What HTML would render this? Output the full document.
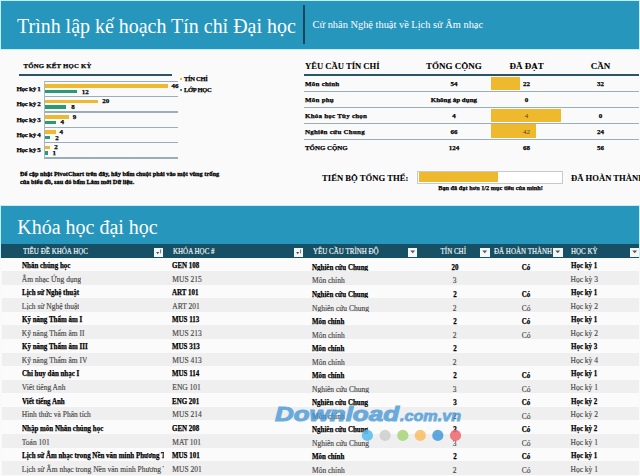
<!DOCTYPE html>
<html><head><meta charset="utf-8"><style>
html,body{margin:0;padding:0;width:640px;height:476px;overflow:hidden;background:#fafafa;position:relative}
</style></head><body>
<div style="position:absolute;left:0px;top:0px;width:640px;height:50px;background:#c4eefa"></div><div style="position:absolute;left:1px;top:1px;width:637.7px;height:47.8px;background:#2696bd"></div><div style="position:absolute;left:16.9px;top:14.57px;font:400 22px/22px 'Liberation Serif',serif;color:#fff;white-space:nowrap;transform:scaleX(0.907);transform-origin:0 0">Trình lập kế hoạch Tín chỉ Đại học</div><div style="position:absolute;left:303px;top:5px;width:1.5px;height:39px;background:#17475c"></div><div style="position:absolute;left:312.5px;top:19.99px;font:400 10.4px/10.4px 'Liberation Serif',serif;color:#fff;white-space:nowrap;">Cử nhân Nghệ thuật về Lịch sử Âm nhạc</div><div style="position:absolute;left:23.4px;top:63.10px;font:700 6.8px/6.8px 'Liberation Serif',serif;color:#000;white-space:nowrap;-webkit-text-stroke:0.25px #000;letter-spacing:0.22px">TỔNG KẾT HỌC KỲ</div><div style="position:absolute;left:18.5px;top:74.3px;width:153.5px;height:1.5px;background:#2a5468"></div><div style="position:absolute;left:44px;top:80.50px;width:134px;height:1.4px;background:#9aadbc"></div><div style="position:absolute;left:44px;top:95.86px;width:134px;height:1.4px;background:#9aadbc"></div><div style="position:absolute;left:44px;top:111.22px;width:134px;height:1.4px;background:#9aadbc"></div><div style="position:absolute;left:44px;top:126.58px;width:134px;height:1.4px;background:#9aadbc"></div><div style="position:absolute;left:44px;top:141.94px;width:134px;height:1.4px;background:#9aadbc"></div><div style="position:absolute;left:44px;top:157.30px;width:134px;height:1.4px;background:#9aadbc"></div><div style="position:absolute;left:43.8px;top:80.7px;width:1.1px;height:77.80px;background:#a9b8c4"></div><div style="position:absolute;left:45px;top:84.40px;width:122.82px;height:3.4px;background:#eeb92c"></div><div style="position:absolute;left:45px;top:89.80px;width:32.04px;height:3.6px;background:#2a9a75"></div><div style="position:absolute;left:-359.5px;width:400px;text-align:right;top:85.84px;font:700 7px/7px 'Liberation Serif',serif;color:#000;white-space:nowrap;-webkit-text-stroke:0.25px #000;letter-spacing:-0.3px">Học kỳ 1</div><div style="position:absolute;left:171.62px;top:83.04px;font:700 7px/7px 'Liberation Serif',serif;color:#000;white-space:nowrap;-webkit-text-stroke:0.25px #000;">46</div><div style="position:absolute;left:81.83999999999999px;top:88.54px;font:700 7px/7px 'Liberation Serif',serif;color:#000;white-space:nowrap;-webkit-text-stroke:0.25px #000;">12</div><div style="position:absolute;left:45px;top:99.76px;width:53.40px;height:3.4px;background:#eeb92c"></div><div style="position:absolute;left:45px;top:105.16px;width:21.36px;height:3.6px;background:#2a9a75"></div><div style="position:absolute;left:-359.5px;width:400px;text-align:right;top:101.20px;font:700 7px/7px 'Liberation Serif',serif;color:#000;white-space:nowrap;-webkit-text-stroke:0.25px #000;letter-spacing:-0.3px">Học kỳ 2</div><div style="position:absolute;left:102.2px;top:98.40px;font:700 7px/7px 'Liberation Serif',serif;color:#000;white-space:nowrap;-webkit-text-stroke:0.25px #000;">20</div><div style="position:absolute;left:71.16px;top:103.90px;font:700 7px/7px 'Liberation Serif',serif;color:#000;white-space:nowrap;-webkit-text-stroke:0.25px #000;">8</div><div style="position:absolute;left:45px;top:115.12px;width:24.03px;height:3.4px;background:#eeb92c"></div><div style="position:absolute;left:45px;top:120.52px;width:10.68px;height:3.6px;background:#2a9a75"></div><div style="position:absolute;left:-359.5px;width:400px;text-align:right;top:116.56px;font:700 7px/7px 'Liberation Serif',serif;color:#000;white-space:nowrap;-webkit-text-stroke:0.25px #000;letter-spacing:-0.3px">Học kỳ 3</div><div style="position:absolute;left:72.83px;top:113.76px;font:700 7px/7px 'Liberation Serif',serif;color:#000;white-space:nowrap;-webkit-text-stroke:0.25px #000;">9</div><div style="position:absolute;left:60.48px;top:119.26px;font:700 7px/7px 'Liberation Serif',serif;color:#000;white-space:nowrap;-webkit-text-stroke:0.25px #000;">4</div><div style="position:absolute;left:45px;top:130.48px;width:10.68px;height:3.4px;background:#eeb92c"></div><div style="position:absolute;left:45px;top:135.88px;width:5.34px;height:3.6px;background:#2a9a75"></div><div style="position:absolute;left:-359.5px;width:400px;text-align:right;top:131.92px;font:700 7px/7px 'Liberation Serif',serif;color:#000;white-space:nowrap;-webkit-text-stroke:0.25px #000;letter-spacing:-0.3px">Học kỳ 4</div><div style="position:absolute;left:59.48px;top:129.12px;font:700 7px/7px 'Liberation Serif',serif;color:#000;white-space:nowrap;-webkit-text-stroke:0.25px #000;">4</div><div style="position:absolute;left:55.14px;top:134.62px;font:700 7px/7px 'Liberation Serif',serif;color:#000;white-space:nowrap;-webkit-text-stroke:0.25px #000;">2</div><div style="position:absolute;left:45px;top:145.84px;width:5.34px;height:3.4px;background:#eeb92c"></div><div style="position:absolute;left:45px;top:151.24px;width:2.67px;height:3.6px;background:#2a9a75"></div><div style="position:absolute;left:-359.5px;width:400px;text-align:right;top:147.28px;font:700 7px/7px 'Liberation Serif',serif;color:#000;white-space:nowrap;-webkit-text-stroke:0.25px #000;letter-spacing:-0.3px">Học kỳ 5</div><div style="position:absolute;left:54.14px;top:144.48px;font:700 7px/7px 'Liberation Serif',serif;color:#000;white-space:nowrap;-webkit-text-stroke:0.25px #000;">2</div><div style="position:absolute;left:52.47px;top:149.98px;font:700 7px/7px 'Liberation Serif',serif;color:#000;white-space:nowrap;-webkit-text-stroke:0.25px #000;">1</div><div style="position:absolute;left:179.5px;top:77.5px;width:2.5px;height:2.5px;background:#eeb92c"></div><div style="position:absolute;left:184px;top:75.56px;font:700 6.5px/6.5px 'Liberation Serif',serif;color:#000;white-space:nowrap;-webkit-text-stroke:0.25px #000;letter-spacing:-0.3px">TÍN CHỈ</div><div style="position:absolute;left:179.5px;top:88.5px;width:2.5px;height:2.5px;background:#2a9a75"></div><div style="position:absolute;left:184px;top:86.56px;font:700 6.5px/6.5px 'Liberation Serif',serif;color:#000;white-space:nowrap;-webkit-text-stroke:0.25px #000;letter-spacing:-0.3px">LỚP HỌC</div><div style="position:absolute;left:19.5px;top:171.29px;font:700 6.7px/6.7px 'Liberation Serif',serif;color:#000;white-space:nowrap;-webkit-text-stroke:0.25px #000;transform:scaleX(0.945);transform-origin:0 0;-webkit-text-stroke:0.3px #000">Để cập nhật PivotChart trên đây, hãy bấm chuột phải vào một vùng trống</div><div style="position:absolute;left:19.5px;top:179.09px;font:700 6.7px/6.7px 'Liberation Serif',serif;color:#000;white-space:nowrap;-webkit-text-stroke:0.25px #000;transform:scaleX(0.945);transform-origin:0 0;-webkit-text-stroke:0.3px #000">của biểu đồ, sau đó bấm Làm mới Dữ liệu.</div><div style="position:absolute;left:305px;top:62.20px;font:700 8.6px/8.6px 'Liberation Serif',serif;color:#000;white-space:nowrap;-webkit-text-stroke:0.08px #000;">YÊU CẦU TÍN CHỈ</div><div style="position:absolute;left:253.89999999999998px;width:400px;text-align:center;top:62.06px;font:700 9px/9px 'Liberation Serif',serif;color:#000;white-space:nowrap;-webkit-text-stroke:0.08px #000;">TỔNG CỘNG</div><div style="position:absolute;left:326.6px;width:400px;text-align:center;top:62.06px;font:700 9px/9px 'Liberation Serif',serif;color:#000;white-space:nowrap;-webkit-text-stroke:0.08px #000;">ĐÃ ĐẠT</div><div style="position:absolute;left:400.6px;width:400px;text-align:center;top:62.06px;font:700 9px/9px 'Liberation Serif',serif;color:#000;white-space:nowrap;-webkit-text-stroke:0.08px #000;">CẦN</div><div style="position:absolute;left:303.5px;top:74px;width:335.5px;height:1.5px;background:#2a5468"></div><div style="position:absolute;left:303.5px;top:90.94999999999999px;width:335.5px;height:1.3px;background:#98b0bb"></div><div style="position:absolute;left:303.5px;top:106.94999999999999px;width:335.5px;height:1.3px;background:#98b0bb"></div><div style="position:absolute;left:303.5px;top:122.75px;width:335.5px;height:1.3px;background:#98b0bb"></div><div style="position:absolute;left:303.5px;top:138.75px;width:335.5px;height:1.3px;background:#98b0bb"></div><div style="position:absolute;left:491px;top:76.50px;width:28.52px;height:13.40px;background:#eeb92c"></div><div style="position:absolute;left:305px;top:81.34px;font:700 7px/7px 'Liberation Serif',serif;color:#000;white-space:nowrap;-webkit-text-stroke:0.25px #000;letter-spacing:0.22px">Môn chính</div><div style="position:absolute;left:253.89999999999998px;width:400px;text-align:center;top:81.34px;font:700 7px/7px 'Liberation Serif',serif;color:#000;white-space:nowrap;-webkit-text-stroke:0.25px #000;">54</div><div style="position:absolute;left:326.6px;width:400px;text-align:center;top:81.34px;font:700 7px/7px 'Liberation Serif',serif;color:#000;white-space:nowrap;-webkit-text-stroke:0.25px #000;">22</div><div style="position:absolute;left:400.6px;width:400px;text-align:center;top:81.34px;font:700 7px/7px 'Liberation Serif',serif;color:#000;white-space:nowrap;-webkit-text-stroke:0.25px #000;">32</div><div style="position:absolute;left:305px;top:97.44px;font:700 7px/7px 'Liberation Serif',serif;color:#000;white-space:nowrap;-webkit-text-stroke:0.25px #000;letter-spacing:0.22px">Môn phụ</div><div style="position:absolute;left:253.89999999999998px;width:400px;text-align:center;top:97.44px;font:700 7px/7px 'Liberation Serif',serif;color:#000;white-space:nowrap;-webkit-text-stroke:0.25px #000;">Không áp dụng</div><div style="position:absolute;left:326.6px;width:400px;text-align:center;top:97.44px;font:700 7px/7px 'Liberation Serif',serif;color:#000;white-space:nowrap;-webkit-text-stroke:0.25px #000;">0</div><div style="position:absolute;left:400.6px;width:400px;text-align:center;top:97.44px;font:700 7px/7px 'Liberation Serif',serif;color:#000;white-space:nowrap;-webkit-text-stroke:0.25px #000;"></div><div style="position:absolute;left:491px;top:108.60px;width:70.00px;height:13.40px;background:#eeb92c"></div><div style="position:absolute;left:305px;top:113.44px;font:700 7px/7px 'Liberation Serif',serif;color:#000;white-space:nowrap;-webkit-text-stroke:0.25px #000;letter-spacing:0.22px">Khóa học Tùy chọn</div><div style="position:absolute;left:253.89999999999998px;width:400px;text-align:center;top:113.44px;font:700 7px/7px 'Liberation Serif',serif;color:#000;white-space:nowrap;-webkit-text-stroke:0.25px #000;">4</div><div style="position:absolute;left:326.6px;width:400px;text-align:center;top:113.44px;font:400 7px/7px 'Liberation Serif',serif;color:#4f4226;white-space:nowrap;">4</div><div style="position:absolute;left:400.6px;width:400px;text-align:center;top:113.44px;font:700 7px/7px 'Liberation Serif',serif;color:#000;white-space:nowrap;-webkit-text-stroke:0.25px #000;">0</div><div style="position:absolute;left:491px;top:124.40px;width:44.55px;height:13.40px;background:#eeb92c"></div><div style="position:absolute;left:305px;top:129.24px;font:700 7px/7px 'Liberation Serif',serif;color:#000;white-space:nowrap;-webkit-text-stroke:0.25px #000;letter-spacing:0.22px">Nghiên cứu Chung</div><div style="position:absolute;left:253.89999999999998px;width:400px;text-align:center;top:129.24px;font:700 7px/7px 'Liberation Serif',serif;color:#000;white-space:nowrap;-webkit-text-stroke:0.25px #000;">66</div><div style="position:absolute;left:326.6px;width:400px;text-align:center;top:129.24px;font:400 7px/7px 'Liberation Serif',serif;color:#4f4226;white-space:nowrap;">42</div><div style="position:absolute;left:400.6px;width:400px;text-align:center;top:129.24px;font:700 7px/7px 'Liberation Serif',serif;color:#000;white-space:nowrap;-webkit-text-stroke:0.25px #000;">24</div><div style="position:absolute;left:305px;top:145.32px;font:700 6.9px/6.9px 'Liberation Serif',serif;color:#000;white-space:nowrap;-webkit-text-stroke:0.25px #000;">TỔNG CỘNG</div><div style="position:absolute;left:253.89999999999998px;width:400px;text-align:center;top:145.24px;font:700 7px/7px 'Liberation Serif',serif;color:#000;white-space:nowrap;-webkit-text-stroke:0.25px #000;">124</div><div style="position:absolute;left:326.6px;width:400px;text-align:center;top:145.24px;font:700 7px/7px 'Liberation Serif',serif;color:#000;white-space:nowrap;-webkit-text-stroke:0.25px #000;">68</div><div style="position:absolute;left:400.6px;width:400px;text-align:center;top:145.24px;font:700 7px/7px 'Liberation Serif',serif;color:#000;white-space:nowrap;-webkit-text-stroke:0.25px #000;">56</div><div style="position:absolute;left:322px;top:173.76px;font:700 9px/9px 'Liberation Serif',serif;color:#000;white-space:nowrap;-webkit-text-stroke:0.08px #000;transform:scaleX(0.96);transform-origin:0 0">TIẾN BỘ TỔNG THỂ:</div><div style="position:absolute;left:417px;top:170.5px;width:143.5px;height:11px;background:#fff;border:1px solid #c9c9c9"></div><div style="position:absolute;left:418.5px;top:172px;width:79px;height:10px;background:#eeb92c"></div><div style="position:absolute;left:290.5px;width:400px;text-align:center;top:185.32px;font:700 6.3px/6.3px 'Liberation Serif',serif;color:#000;white-space:nowrap;-webkit-text-stroke:0.25px #000;">Bạn đã đạt hơn 1/2 mục tiêu của mình!</div><div style="position:absolute;left:571px;top:174.10px;font:700 8.6px/8.6px 'Liberation Serif',serif;color:#000;white-space:nowrap;-webkit-text-stroke:0.08px #000;">ĐÃ HOÀN THÀNH</div><div style="position:absolute;left:0px;top:205px;width:640px;height:53px;background:#c4eefa"></div><div style="position:absolute;left:1px;top:205.9px;width:637.7px;height:38.5px;background:#2696bd"></div><div style="position:absolute;left:17.2px;top:216.65px;font:400 20px/20px 'Liberation Serif',serif;color:#fff;white-space:nowrap;">Khóa học đại học</div><div style="position:absolute;left:1px;top:244.2px;width:637.7px;height:13.5px;background:#175064"></div><div style="position:absolute;left:22.5px;top:247.83px;font:400 7.6px/7.6px 'Liberation Serif',serif;color:#f4f8f9;white-space:nowrap;transform:scaleX(0.92);transform-origin:0 0;width:142.9px;overflow:hidden;-webkit-text-stroke:0.15px #f4f8f9;padding-top:5px;margin-top:-5px;padding-bottom:3px">TIÊU ĐỀ KHÓA HỌC</div><div style="position:absolute;left:154px;top:247.7px;width:9.4px;height:9.6px;background:#f3f6f6"><svg width="9.5" height="9.5" style="position:absolute;left:0;top:0"><path d="M2.1 3.9 L5.3 3.9 L3.7 6.2 Z" fill="#5a4a4a"/><rect x="6.1" y="1.4" width="1" height="4" fill="#777"/></svg></div><div style="position:absolute;left:172.5px;top:247.83px;font:400 7.6px/7.6px 'Liberation Serif',serif;color:#f4f8f9;white-space:nowrap;transform:scaleX(0.92);transform-origin:0 0;width:132.1px;overflow:hidden;-webkit-text-stroke:0.15px #f4f8f9;padding-top:5px;margin-top:-5px;padding-bottom:3px">KHÓA HỌC #</div><div style="position:absolute;left:294px;top:247.7px;width:9.4px;height:9.6px;background:#f3f6f6"><svg width="9.5" height="9.5" style="position:absolute;left:0;top:0"><path d="M2.1 3.9 L5.3 3.9 L3.7 6.2 Z" fill="#5a4a4a"/><rect x="6.1" y="1.4" width="1" height="4" fill="#777"/></svg></div><div style="position:absolute;left:312.5px;top:247.83px;font:400 7.6px/7.6px 'Liberation Serif',serif;color:#f4f8f9;white-space:nowrap;transform:scaleX(0.92);transform-origin:0 0;width:103.8px;overflow:hidden;-webkit-text-stroke:0.15px #f4f8f9;padding-top:5px;margin-top:-5px;padding-bottom:3px">YÊU CẦU TRÌNH ĐỘ</div><div style="position:absolute;left:408px;top:247.7px;width:9.4px;height:9.6px;background:#f3f6f6"><svg width="9.5" height="9.5" style="position:absolute;left:0;top:0"><path d="M2.3 2.6 L7.1 2.6 L4.7 5.2 Z" fill="#555"/></svg></div><div style="position:absolute;left:66.30000000000001px;width:400px;text-align:right;top:247.83px;font:400 7.6px/7.6px 'Liberation Serif',serif;color:#f4f8f9;white-space:nowrap;transform:scaleX(0.92);transform-origin:100% 0;-webkit-text-stroke:0.15px #f4f8f9">TÍN CHỈ</div><div style="position:absolute;left:480.2px;top:247.7px;width:9.4px;height:9.6px;background:#f3f6f6"><svg width="9.5" height="9.5" style="position:absolute;left:0;top:0"><path d="M2.3 2.6 L7.1 2.6 L4.7 5.2 Z" fill="#555"/></svg></div><div style="position:absolute;left:494.3px;top:247.83px;font:400 7.6px/7.6px 'Liberation Serif',serif;color:#f4f8f9;white-space:nowrap;transform:scaleX(0.92);transform-origin:0 0;width:64.2px;overflow:hidden;-webkit-text-stroke:0.15px #f4f8f9;padding-top:5px;margin-top:-5px;padding-bottom:3px">ĐÃ HOÀN THÀNH</div><div style="position:absolute;left:553.4px;top:247.7px;width:9.4px;height:9.6px;background:#f3f6f6"><svg width="9.5" height="9.5" style="position:absolute;left:0;top:0"><path d="M2.3 2.6 L7.1 2.6 L4.7 5.2 Z" fill="#555"/></svg></div><div style="position:absolute;left:570.5px;top:247.83px;font:400 7.6px/7.6px 'Liberation Serif',serif;color:#f4f8f9;white-space:nowrap;transform:scaleX(0.92);transform-origin:0 0;width:64.7px;overflow:hidden;-webkit-text-stroke:0.15px #f4f8f9;padding-top:5px;margin-top:-5px;padding-bottom:3px">HỌC KỲ</div><div style="position:absolute;left:630px;top:247.7px;width:9.4px;height:9.6px;background:#f3f6f6"><svg width="9.5" height="9.5" style="position:absolute;left:0;top:0"><path d="M2.3 2.6 L7.1 2.6 L4.7 5.2 Z" fill="#555"/></svg></div><div style="position:absolute;left:1.5px;top:257.60px;width:637px;height:13.57px;background:#fbfbfb"></div><div style="position:absolute;left:21.8px;top:261.80px;font:700 8px/8px 'Liberation Serif',serif;color:#000;white-space:nowrap;-webkit-text-stroke:0.25px #000;transform:scaleX(0.87);transform-origin:0 0;width:163px;overflow:hidden;padding-top:5px;margin-top:-5px;padding-bottom:3px">Nhân chủng học</div><div style="position:absolute;left:172.3px;top:261.80px;font:700 8px/8px 'Liberation Serif',serif;color:#000;white-space:nowrap;-webkit-text-stroke:0.25px #000;transform:scaleX(0.87);transform-origin:0 0;">GEN 108</div><div style="position:absolute;left:312.0px;top:263.50px;font:700 8px/8px 'Liberation Serif',serif;color:#000;white-space:nowrap;-webkit-text-stroke:0.25px #000;transform:scaleX(0.87);transform-origin:0 0;">Nghiên cứu Chung</div><div style="position:absolute;left:254.5px;width:400px;text-align:center;top:263.50px;font:700 8px/8px 'Liberation Serif',serif;color:#000;white-space:nowrap;-webkit-text-stroke:0.25px #000;transform:scaleX(0.87);transform-origin:50% 0;">20</div><div style="position:absolute;left:326.20000000000005px;width:400px;text-align:center;top:263.50px;font:700 8px/8px 'Liberation Serif',serif;color:#000;white-space:nowrap;-webkit-text-stroke:0.25px #000;transform:scaleX(0.87);transform-origin:50% 0;">Có</div><div style="position:absolute;left:570.5px;top:261.80px;font:700 8px/8px 'Liberation Serif',serif;color:#000;white-space:nowrap;-webkit-text-stroke:0.25px #000;transform:scaleX(0.87);transform-origin:0 0;">Học kỳ 1</div><div style="position:absolute;left:1.5px;top:271.17px;width:637px;height:13.57px;background:#efefef"></div><div style="position:absolute;left:21.8px;top:275.79px;font:400 7.5px/7.5px 'Liberation Serif',serif;color:#474747;white-space:nowrap;-webkit-text-stroke:0.15px #474747;max-width:142px;overflow:hidden;padding-top:5px;margin-top:-5px;padding-bottom:3px">Âm nhạc Ứng dụng</div><div style="position:absolute;left:172.3px;top:275.79px;font:400 7.5px/7.5px 'Liberation Serif',serif;color:#474747;white-space:nowrap;-webkit-text-stroke:0.15px #474747;">MUS 215</div><div style="position:absolute;left:312.0px;top:277.49px;font:400 7.5px/7.5px 'Liberation Serif',serif;color:#474747;white-space:nowrap;-webkit-text-stroke:0.15px #474747;">Môn chính</div><div style="position:absolute;left:254.5px;width:400px;text-align:center;top:277.49px;font:400 7.5px/7.5px 'Liberation Serif',serif;color:#474747;white-space:nowrap;-webkit-text-stroke:0.15px #474747;">3</div><div style="position:absolute;left:326.20000000000005px;width:400px;text-align:center;top:277.49px;font:400 7.5px/7.5px 'Liberation Serif',serif;color:#474747;white-space:nowrap;-webkit-text-stroke:0.15px #474747;"></div><div style="position:absolute;left:570.5px;top:275.79px;font:400 7.5px/7.5px 'Liberation Serif',serif;color:#474747;white-space:nowrap;-webkit-text-stroke:0.15px #474747;">Học kỳ 3</div><div style="position:absolute;left:1.5px;top:284.74px;width:637px;height:13.57px;background:#fbfbfb"></div><div style="position:absolute;left:21.8px;top:288.94px;font:700 8px/8px 'Liberation Serif',serif;color:#000;white-space:nowrap;-webkit-text-stroke:0.25px #000;transform:scaleX(0.87);transform-origin:0 0;width:163px;overflow:hidden;padding-top:5px;margin-top:-5px;padding-bottom:3px">Lịch sử Nghệ thuật</div><div style="position:absolute;left:172.3px;top:288.94px;font:700 8px/8px 'Liberation Serif',serif;color:#000;white-space:nowrap;-webkit-text-stroke:0.25px #000;transform:scaleX(0.87);transform-origin:0 0;">ART 101</div><div style="position:absolute;left:312.0px;top:290.64px;font:700 8px/8px 'Liberation Serif',serif;color:#000;white-space:nowrap;-webkit-text-stroke:0.25px #000;transform:scaleX(0.87);transform-origin:0 0;">Nghiên cứu Chung</div><div style="position:absolute;left:254.5px;width:400px;text-align:center;top:290.64px;font:700 8px/8px 'Liberation Serif',serif;color:#000;white-space:nowrap;-webkit-text-stroke:0.25px #000;transform:scaleX(0.87);transform-origin:50% 0;">2</div><div style="position:absolute;left:326.20000000000005px;width:400px;text-align:center;top:290.64px;font:700 8px/8px 'Liberation Serif',serif;color:#000;white-space:nowrap;-webkit-text-stroke:0.25px #000;transform:scaleX(0.87);transform-origin:50% 0;">Có</div><div style="position:absolute;left:570.5px;top:288.94px;font:700 8px/8px 'Liberation Serif',serif;color:#000;white-space:nowrap;-webkit-text-stroke:0.25px #000;transform:scaleX(0.87);transform-origin:0 0;">Học kỳ 1</div><div style="position:absolute;left:1.5px;top:298.31px;width:637px;height:13.57px;background:#efefef"></div><div style="position:absolute;left:21.8px;top:302.93px;font:400 7.5px/7.5px 'Liberation Serif',serif;color:#474747;white-space:nowrap;-webkit-text-stroke:0.15px #474747;max-width:142px;overflow:hidden;padding-top:5px;margin-top:-5px;padding-bottom:3px">Lịch sử Nghệ thuật</div><div style="position:absolute;left:172.3px;top:302.93px;font:400 7.5px/7.5px 'Liberation Serif',serif;color:#474747;white-space:nowrap;-webkit-text-stroke:0.15px #474747;">ART 201</div><div style="position:absolute;left:312.0px;top:304.63px;font:400 7.5px/7.5px 'Liberation Serif',serif;color:#474747;white-space:nowrap;-webkit-text-stroke:0.15px #474747;">Nghiên cứu Chung</div><div style="position:absolute;left:254.5px;width:400px;text-align:center;top:304.63px;font:400 7.5px/7.5px 'Liberation Serif',serif;color:#474747;white-space:nowrap;-webkit-text-stroke:0.15px #474747;">2</div><div style="position:absolute;left:326.20000000000005px;width:400px;text-align:center;top:304.63px;font:400 7.5px/7.5px 'Liberation Serif',serif;color:#474747;white-space:nowrap;-webkit-text-stroke:0.15px #474747;">Có</div><div style="position:absolute;left:570.5px;top:302.93px;font:400 7.5px/7.5px 'Liberation Serif',serif;color:#474747;white-space:nowrap;-webkit-text-stroke:0.15px #474747;">Học kỳ 2</div><div style="position:absolute;left:1.5px;top:311.88px;width:637px;height:13.57px;background:#fbfbfb"></div><div style="position:absolute;left:21.8px;top:316.08px;font:700 8px/8px 'Liberation Serif',serif;color:#000;white-space:nowrap;-webkit-text-stroke:0.25px #000;transform:scaleX(0.87);transform-origin:0 0;width:163px;overflow:hidden;padding-top:5px;margin-top:-5px;padding-bottom:3px">Kỹ năng Thẩm âm I</div><div style="position:absolute;left:172.3px;top:316.08px;font:700 8px/8px 'Liberation Serif',serif;color:#000;white-space:nowrap;-webkit-text-stroke:0.25px #000;transform:scaleX(0.87);transform-origin:0 0;">MUS 113</div><div style="position:absolute;left:312.0px;top:317.78px;font:700 8px/8px 'Liberation Serif',serif;color:#000;white-space:nowrap;-webkit-text-stroke:0.25px #000;transform:scaleX(0.87);transform-origin:0 0;">Môn chính</div><div style="position:absolute;left:254.5px;width:400px;text-align:center;top:317.78px;font:700 8px/8px 'Liberation Serif',serif;color:#000;white-space:nowrap;-webkit-text-stroke:0.25px #000;transform:scaleX(0.87);transform-origin:50% 0;">2</div><div style="position:absolute;left:326.20000000000005px;width:400px;text-align:center;top:317.78px;font:700 8px/8px 'Liberation Serif',serif;color:#000;white-space:nowrap;-webkit-text-stroke:0.25px #000;transform:scaleX(0.87);transform-origin:50% 0;">Có</div><div style="position:absolute;left:570.5px;top:316.08px;font:700 8px/8px 'Liberation Serif',serif;color:#000;white-space:nowrap;-webkit-text-stroke:0.25px #000;transform:scaleX(0.87);transform-origin:0 0;">Học kỳ 1</div><div style="position:absolute;left:1.5px;top:325.45px;width:637px;height:13.57px;background:#efefef"></div><div style="position:absolute;left:21.8px;top:330.07px;font:400 7.5px/7.5px 'Liberation Serif',serif;color:#474747;white-space:nowrap;-webkit-text-stroke:0.15px #474747;max-width:142px;overflow:hidden;padding-top:5px;margin-top:-5px;padding-bottom:3px">Kỹ năng Thẩm âm II</div><div style="position:absolute;left:172.3px;top:330.07px;font:400 7.5px/7.5px 'Liberation Serif',serif;color:#474747;white-space:nowrap;-webkit-text-stroke:0.15px #474747;">MUS 213</div><div style="position:absolute;left:312.0px;top:331.77px;font:400 7.5px/7.5px 'Liberation Serif',serif;color:#474747;white-space:nowrap;-webkit-text-stroke:0.15px #474747;">Môn chính</div><div style="position:absolute;left:254.5px;width:400px;text-align:center;top:331.77px;font:400 7.5px/7.5px 'Liberation Serif',serif;color:#474747;white-space:nowrap;-webkit-text-stroke:0.15px #474747;">2</div><div style="position:absolute;left:326.20000000000005px;width:400px;text-align:center;top:331.77px;font:400 7.5px/7.5px 'Liberation Serif',serif;color:#474747;white-space:nowrap;-webkit-text-stroke:0.15px #474747;">Có</div><div style="position:absolute;left:570.5px;top:330.07px;font:400 7.5px/7.5px 'Liberation Serif',serif;color:#474747;white-space:nowrap;-webkit-text-stroke:0.15px #474747;">Học kỳ 2</div><div style="position:absolute;left:1.5px;top:339.02px;width:637px;height:13.57px;background:#fbfbfb"></div><div style="position:absolute;left:21.8px;top:343.22px;font:700 8px/8px 'Liberation Serif',serif;color:#000;white-space:nowrap;-webkit-text-stroke:0.25px #000;transform:scaleX(0.87);transform-origin:0 0;width:163px;overflow:hidden;padding-top:5px;margin-top:-5px;padding-bottom:3px">Kỹ năng Thẩm âm III</div><div style="position:absolute;left:172.3px;top:343.22px;font:700 8px/8px 'Liberation Serif',serif;color:#000;white-space:nowrap;-webkit-text-stroke:0.25px #000;transform:scaleX(0.87);transform-origin:0 0;">MUS 313</div><div style="position:absolute;left:312.0px;top:344.92px;font:700 8px/8px 'Liberation Serif',serif;color:#000;white-space:nowrap;-webkit-text-stroke:0.25px #000;transform:scaleX(0.87);transform-origin:0 0;">Môn chính</div><div style="position:absolute;left:254.5px;width:400px;text-align:center;top:344.92px;font:700 8px/8px 'Liberation Serif',serif;color:#000;white-space:nowrap;-webkit-text-stroke:0.25px #000;transform:scaleX(0.87);transform-origin:50% 0;">2</div><div style="position:absolute;left:326.20000000000005px;width:400px;text-align:center;top:344.92px;font:700 8px/8px 'Liberation Serif',serif;color:#000;white-space:nowrap;-webkit-text-stroke:0.25px #000;transform:scaleX(0.87);transform-origin:50% 0;"></div><div style="position:absolute;left:570.5px;top:343.22px;font:700 8px/8px 'Liberation Serif',serif;color:#000;white-space:nowrap;-webkit-text-stroke:0.25px #000;transform:scaleX(0.87);transform-origin:0 0;">Học kỳ 3</div><div style="position:absolute;left:1.5px;top:352.59px;width:637px;height:13.57px;background:#efefef"></div><div style="position:absolute;left:21.8px;top:357.21px;font:400 7.5px/7.5px 'Liberation Serif',serif;color:#474747;white-space:nowrap;-webkit-text-stroke:0.15px #474747;max-width:142px;overflow:hidden;padding-top:5px;margin-top:-5px;padding-bottom:3px">Kỹ năng Thẩm âm IV</div><div style="position:absolute;left:172.3px;top:357.21px;font:400 7.5px/7.5px 'Liberation Serif',serif;color:#474747;white-space:nowrap;-webkit-text-stroke:0.15px #474747;">MUS 413</div><div style="position:absolute;left:312.0px;top:358.91px;font:400 7.5px/7.5px 'Liberation Serif',serif;color:#474747;white-space:nowrap;-webkit-text-stroke:0.15px #474747;">Môn chính</div><div style="position:absolute;left:254.5px;width:400px;text-align:center;top:358.91px;font:400 7.5px/7.5px 'Liberation Serif',serif;color:#474747;white-space:nowrap;-webkit-text-stroke:0.15px #474747;">2</div><div style="position:absolute;left:326.20000000000005px;width:400px;text-align:center;top:358.91px;font:400 7.5px/7.5px 'Liberation Serif',serif;color:#474747;white-space:nowrap;-webkit-text-stroke:0.15px #474747;"></div><div style="position:absolute;left:570.5px;top:357.21px;font:400 7.5px/7.5px 'Liberation Serif',serif;color:#474747;white-space:nowrap;-webkit-text-stroke:0.15px #474747;">Học kỳ 4</div><div style="position:absolute;left:1.5px;top:366.16px;width:637px;height:13.57px;background:#fbfbfb"></div><div style="position:absolute;left:21.8px;top:370.36px;font:700 8px/8px 'Liberation Serif',serif;color:#000;white-space:nowrap;-webkit-text-stroke:0.25px #000;transform:scaleX(0.87);transform-origin:0 0;width:163px;overflow:hidden;padding-top:5px;margin-top:-5px;padding-bottom:3px">Chỉ huy dàn nhạc I</div><div style="position:absolute;left:172.3px;top:370.36px;font:700 8px/8px 'Liberation Serif',serif;color:#000;white-space:nowrap;-webkit-text-stroke:0.25px #000;transform:scaleX(0.87);transform-origin:0 0;">MUS 114</div><div style="position:absolute;left:312.0px;top:372.06px;font:700 8px/8px 'Liberation Serif',serif;color:#000;white-space:nowrap;-webkit-text-stroke:0.25px #000;transform:scaleX(0.87);transform-origin:0 0;">Môn chính</div><div style="position:absolute;left:254.5px;width:400px;text-align:center;top:372.06px;font:700 8px/8px 'Liberation Serif',serif;color:#000;white-space:nowrap;-webkit-text-stroke:0.25px #000;transform:scaleX(0.87);transform-origin:50% 0;">2</div><div style="position:absolute;left:326.20000000000005px;width:400px;text-align:center;top:372.06px;font:700 8px/8px 'Liberation Serif',serif;color:#000;white-space:nowrap;-webkit-text-stroke:0.25px #000;transform:scaleX(0.87);transform-origin:50% 0;">Có</div><div style="position:absolute;left:570.5px;top:370.36px;font:700 8px/8px 'Liberation Serif',serif;color:#000;white-space:nowrap;-webkit-text-stroke:0.25px #000;transform:scaleX(0.87);transform-origin:0 0;">Học kỳ 1</div><div style="position:absolute;left:1.5px;top:379.73px;width:637px;height:13.57px;background:#efefef"></div><div style="position:absolute;left:21.8px;top:384.35px;font:400 7.5px/7.5px 'Liberation Serif',serif;color:#474747;white-space:nowrap;-webkit-text-stroke:0.15px #474747;max-width:142px;overflow:hidden;padding-top:5px;margin-top:-5px;padding-bottom:3px">Viết tiếng Anh</div><div style="position:absolute;left:172.3px;top:384.35px;font:400 7.5px/7.5px 'Liberation Serif',serif;color:#474747;white-space:nowrap;-webkit-text-stroke:0.15px #474747;">ENG 101</div><div style="position:absolute;left:312.0px;top:386.05px;font:400 7.5px/7.5px 'Liberation Serif',serif;color:#474747;white-space:nowrap;-webkit-text-stroke:0.15px #474747;">Nghiên cứu Chung</div><div style="position:absolute;left:254.5px;width:400px;text-align:center;top:386.05px;font:400 7.5px/7.5px 'Liberation Serif',serif;color:#474747;white-space:nowrap;-webkit-text-stroke:0.15px #474747;">3</div><div style="position:absolute;left:326.20000000000005px;width:400px;text-align:center;top:386.05px;font:400 7.5px/7.5px 'Liberation Serif',serif;color:#474747;white-space:nowrap;-webkit-text-stroke:0.15px #474747;">Có</div><div style="position:absolute;left:570.5px;top:384.35px;font:400 7.5px/7.5px 'Liberation Serif',serif;color:#474747;white-space:nowrap;-webkit-text-stroke:0.15px #474747;">Học kỳ 1</div><div style="position:absolute;left:1.5px;top:393.30px;width:637px;height:13.57px;background:#fbfbfb"></div><div style="position:absolute;left:21.8px;top:397.50px;font:700 8px/8px 'Liberation Serif',serif;color:#000;white-space:nowrap;-webkit-text-stroke:0.25px #000;transform:scaleX(0.87);transform-origin:0 0;width:163px;overflow:hidden;padding-top:5px;margin-top:-5px;padding-bottom:3px">Viết tiếng Anh</div><div style="position:absolute;left:172.3px;top:397.50px;font:700 8px/8px 'Liberation Serif',serif;color:#000;white-space:nowrap;-webkit-text-stroke:0.25px #000;transform:scaleX(0.87);transform-origin:0 0;">ENG 201</div><div style="position:absolute;left:312.0px;top:399.20px;font:700 8px/8px 'Liberation Serif',serif;color:#000;white-space:nowrap;-webkit-text-stroke:0.25px #000;transform:scaleX(0.87);transform-origin:0 0;">Nghiên cứu Chung</div><div style="position:absolute;left:254.5px;width:400px;text-align:center;top:399.20px;font:700 8px/8px 'Liberation Serif',serif;color:#000;white-space:nowrap;-webkit-text-stroke:0.25px #000;transform:scaleX(0.87);transform-origin:50% 0;">3</div><div style="position:absolute;left:326.20000000000005px;width:400px;text-align:center;top:399.20px;font:700 8px/8px 'Liberation Serif',serif;color:#000;white-space:nowrap;-webkit-text-stroke:0.25px #000;transform:scaleX(0.87);transform-origin:50% 0;">Có</div><div style="position:absolute;left:570.5px;top:397.50px;font:700 8px/8px 'Liberation Serif',serif;color:#000;white-space:nowrap;-webkit-text-stroke:0.25px #000;transform:scaleX(0.87);transform-origin:0 0;">Học kỳ 2</div><div style="position:absolute;left:1.5px;top:406.87px;width:637px;height:13.57px;background:#efefef"></div><div style="position:absolute;left:21.8px;top:411.49px;font:400 7.5px/7.5px 'Liberation Serif',serif;color:#474747;white-space:nowrap;-webkit-text-stroke:0.15px #474747;max-width:142px;overflow:hidden;padding-top:5px;margin-top:-5px;padding-bottom:3px">Hình thức và Phân tích</div><div style="position:absolute;left:172.3px;top:411.49px;font:400 7.5px/7.5px 'Liberation Serif',serif;color:#474747;white-space:nowrap;-webkit-text-stroke:0.15px #474747;">MUS 214</div><div style="position:absolute;left:312.0px;top:413.19px;font:400 7.5px/7.5px 'Liberation Serif',serif;color:#474747;white-space:nowrap;-webkit-text-stroke:0.15px #474747;">Môn chính</div><div style="position:absolute;left:254.5px;width:400px;text-align:center;top:413.19px;font:400 7.5px/7.5px 'Liberation Serif',serif;color:#474747;white-space:nowrap;-webkit-text-stroke:0.15px #474747;">2</div><div style="position:absolute;left:326.20000000000005px;width:400px;text-align:center;top:413.19px;font:400 7.5px/7.5px 'Liberation Serif',serif;color:#474747;white-space:nowrap;-webkit-text-stroke:0.15px #474747;">Có</div><div style="position:absolute;left:570.5px;top:411.49px;font:400 7.5px/7.5px 'Liberation Serif',serif;color:#474747;white-space:nowrap;-webkit-text-stroke:0.15px #474747;">Học kỳ 2</div><div style="position:absolute;left:1.5px;top:420.44px;width:637px;height:13.57px;background:#fbfbfb"></div><div style="position:absolute;left:21.8px;top:424.64px;font:700 8px/8px 'Liberation Serif',serif;color:#000;white-space:nowrap;-webkit-text-stroke:0.25px #000;transform:scaleX(0.87);transform-origin:0 0;width:163px;overflow:hidden;padding-top:5px;margin-top:-5px;padding-bottom:3px">Nhập môn Nhân chủng học</div><div style="position:absolute;left:172.3px;top:424.64px;font:700 8px/8px 'Liberation Serif',serif;color:#000;white-space:nowrap;-webkit-text-stroke:0.25px #000;transform:scaleX(0.87);transform-origin:0 0;">GEN 208</div><div style="position:absolute;left:312.0px;top:426.34px;font:700 8px/8px 'Liberation Serif',serif;color:#000;white-space:nowrap;-webkit-text-stroke:0.25px #000;transform:scaleX(0.87);transform-origin:0 0;">Nghiên cứu Chung</div><div style="position:absolute;left:254.5px;width:400px;text-align:center;top:426.34px;font:700 8px/8px 'Liberation Serif',serif;color:#000;white-space:nowrap;-webkit-text-stroke:0.25px #000;transform:scaleX(0.87);transform-origin:50% 0;">3</div><div style="position:absolute;left:326.20000000000005px;width:400px;text-align:center;top:426.34px;font:700 8px/8px 'Liberation Serif',serif;color:#000;white-space:nowrap;-webkit-text-stroke:0.25px #000;transform:scaleX(0.87);transform-origin:50% 0;">Có</div><div style="position:absolute;left:570.5px;top:424.64px;font:700 8px/8px 'Liberation Serif',serif;color:#000;white-space:nowrap;-webkit-text-stroke:0.25px #000;transform:scaleX(0.87);transform-origin:0 0;">Học kỳ 2</div><div style="position:absolute;left:1.5px;top:434.01px;width:637px;height:13.57px;background:#efefef"></div><div style="position:absolute;left:21.8px;top:438.63px;font:400 7.5px/7.5px 'Liberation Serif',serif;color:#474747;white-space:nowrap;-webkit-text-stroke:0.15px #474747;max-width:142px;overflow:hidden;padding-top:5px;margin-top:-5px;padding-bottom:3px">Toán 101</div><div style="position:absolute;left:172.3px;top:438.63px;font:400 7.5px/7.5px 'Liberation Serif',serif;color:#474747;white-space:nowrap;-webkit-text-stroke:0.15px #474747;">MAT 101</div><div style="position:absolute;left:312.0px;top:440.33px;font:400 7.5px/7.5px 'Liberation Serif',serif;color:#474747;white-space:nowrap;-webkit-text-stroke:0.15px #474747;">Nghiên cứu Chung</div><div style="position:absolute;left:254.5px;width:400px;text-align:center;top:440.33px;font:400 7.5px/7.5px 'Liberation Serif',serif;color:#474747;white-space:nowrap;-webkit-text-stroke:0.15px #474747;">3</div><div style="position:absolute;left:326.20000000000005px;width:400px;text-align:center;top:440.33px;font:400 7.5px/7.5px 'Liberation Serif',serif;color:#474747;white-space:nowrap;-webkit-text-stroke:0.15px #474747;">Có</div><div style="position:absolute;left:570.5px;top:438.63px;font:400 7.5px/7.5px 'Liberation Serif',serif;color:#474747;white-space:nowrap;-webkit-text-stroke:0.15px #474747;">Học kỳ 1</div><div style="position:absolute;left:1.5px;top:447.58px;width:637px;height:13.57px;background:#fbfbfb"></div><div style="position:absolute;left:21.8px;top:451.78px;font:700 8px/8px 'Liberation Serif',serif;color:#000;white-space:nowrap;-webkit-text-stroke:0.25px #000;transform:scaleX(0.87);transform-origin:0 0;width:163px;overflow:hidden;padding-top:5px;margin-top:-5px;padding-bottom:3px">Lịch sử Âm nhạc trong Nền văn minh Phương Tây</div><div style="position:absolute;left:172.3px;top:451.78px;font:700 8px/8px 'Liberation Serif',serif;color:#000;white-space:nowrap;-webkit-text-stroke:0.25px #000;transform:scaleX(0.87);transform-origin:0 0;">MUS 101</div><div style="position:absolute;left:312.0px;top:453.48px;font:700 8px/8px 'Liberation Serif',serif;color:#000;white-space:nowrap;-webkit-text-stroke:0.25px #000;transform:scaleX(0.87);transform-origin:0 0;">Môn chính</div><div style="position:absolute;left:254.5px;width:400px;text-align:center;top:453.48px;font:700 8px/8px 'Liberation Serif',serif;color:#000;white-space:nowrap;-webkit-text-stroke:0.25px #000;transform:scaleX(0.87);transform-origin:50% 0;">2</div><div style="position:absolute;left:326.20000000000005px;width:400px;text-align:center;top:453.48px;font:700 8px/8px 'Liberation Serif',serif;color:#000;white-space:nowrap;-webkit-text-stroke:0.25px #000;transform:scaleX(0.87);transform-origin:50% 0;">Có</div><div style="position:absolute;left:570.5px;top:451.78px;font:700 8px/8px 'Liberation Serif',serif;color:#000;white-space:nowrap;-webkit-text-stroke:0.25px #000;transform:scaleX(0.87);transform-origin:0 0;">Học kỳ 1</div><div style="position:absolute;left:1.5px;top:461.15px;width:637px;height:13.57px;background:#efefef"></div><div style="position:absolute;left:21.8px;top:465.77px;font:400 7.5px/7.5px 'Liberation Serif',serif;color:#474747;white-space:nowrap;-webkit-text-stroke:0.15px #474747;max-width:142px;overflow:hidden;padding-top:5px;margin-top:-5px;padding-bottom:3px">Lịch sử Âm nhạc trong Nền văn minh Phương Tây</div><div style="position:absolute;left:172.3px;top:465.77px;font:400 7.5px/7.5px 'Liberation Serif',serif;color:#474747;white-space:nowrap;-webkit-text-stroke:0.15px #474747;">MUS 201</div><div style="position:absolute;left:312.0px;top:467.47px;font:400 7.5px/7.5px 'Liberation Serif',serif;color:#474747;white-space:nowrap;-webkit-text-stroke:0.15px #474747;">Môn chính</div><div style="position:absolute;left:254.5px;width:400px;text-align:center;top:467.47px;font:400 7.5px/7.5px 'Liberation Serif',serif;color:#474747;white-space:nowrap;-webkit-text-stroke:0.15px #474747;">2</div><div style="position:absolute;left:326.20000000000005px;width:400px;text-align:center;top:467.47px;font:400 7.5px/7.5px 'Liberation Serif',serif;color:#474747;white-space:nowrap;-webkit-text-stroke:0.15px #474747;">Có</div><div style="position:absolute;left:570.5px;top:465.77px;font:400 7.5px/7.5px 'Liberation Serif',serif;color:#474747;white-space:nowrap;-webkit-text-stroke:0.15px #474747;">Học kỳ 1</div><svg width="640" height="476" style="position:absolute;left:0;top:0">
<g opacity="0.78">
<text x="275" y="421.2" font-family="Liberation Sans" font-weight="700" font-style="italic" font-size="19.5" fill="#4697d6" stroke="#4697d6" stroke-width="1.0" textLength="124" lengthAdjust="spacingAndGlyphs">Download</text>
<text x="400" y="421.2" font-family="Liberation Sans" font-weight="700" font-style="italic" font-size="15.5" fill="#4697d6" stroke="#4697d6" stroke-width="0.85" textLength="61" lengthAdjust="spacingAndGlyphs">.com.vn</text>
</g>
<g opacity="0.88">
<circle cx="367.4" cy="435.4" r="5.6" fill="#58bfef"/>
<circle cx="385.1" cy="435.4" r="5.6" fill="#d0d0d0"/>
<circle cx="402.8" cy="435.4" r="5.6" fill="#a8d67b"/>
<circle cx="420.3" cy="435.4" r="5.6" fill="#f8c068"/>
<circle cx="437.8" cy="435.4" r="5.6" fill="#4a9ddb"/>
<circle cx="455.5" cy="435.4" r="5.6" fill="#f06a72"/>
</g></svg>
</body></html>
